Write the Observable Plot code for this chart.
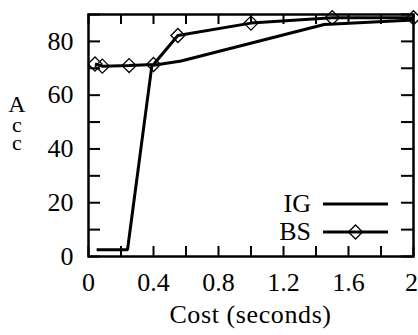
<!DOCTYPE html>
<html><head><meta charset="utf-8">
<script src="https://cdn.jsdelivr.net/npm/d3@7"></script>
<script src="https://cdn.jsdelivr.net/npm/@observablehq/plot@0.6"></script>
<style>
html,body{margin:0;padding:0;background:#fff;}
#chart{width:418px;height:335px;font-family:"Liberation Serif",serif;}
#chart svg, #chart svg text, #chart svg tspan, #chart svg g{font-family:"Liberation Serif",serif !important;}
</style></head><body><div id="chart"></div>
<script>
// ---- data ----
const seriesNames = ["IG", "BS"];
const igCost = [0.05, 0.24, 0.39, 0.57, 1.45, 2.0];
const igAcc  = [2.5, 2.5, 71, 72.7, 86.3, 88];
const bsCost = [0.04, 0.085, 0.25, 0.40, 0.55, 1.0, 1.5, 2.0];
const bsAcc  = [71.6, 70.8, 71, 71.4, 82.2, 86.8, 88.8, 88.8];
const xTickLabels = [0, 0.4, 0.8, 1.2, 1.6];
const xLastLabel = [2];
const xTicks = [0, 0.2, 0.4, 0.6, 0.8, 1.0, 1.2, 1.4, 1.6, 1.8, 2.0];
const yTickLabels = [0, 20, 40, 60, 80];
const yTicks = [0, 10, 20, 30, 40, 50, 60, 70, 80, 90];
const xLabel = "Cost (seconds)";
const yLabel = "Acc";

// ---- layout ----
const W = 418, H = 335, mL = 88, mR = 5, mT = 14, mB = 79;
const innerW = W - mL - mR, innerH = H - mT - mB;
const font = "Liberation Serif";
const fs = 26;

const ig = igCost.map((x, i) => ({x, y: igAcc[i]}));
const bs = bsCost.map((x, i) => ({x, y: bsAcc[i]}));

const tickStyle = {stroke: "black", strokeWidth: 2};
const svg = Plot.plot({
  width: W, height: H,
  marginLeft: mL, marginRight: mR, marginTop: mT, marginBottom: mB,
  style: {fontFamily: font, background: "white", color: "black"},
  x: {domain: [0, 2], label: null},
  y: {domain: [0, 90], label: null},
  marks: [
    Plot.axisX({ticks: xTickLabels, tickSize: 0, tickPadding: 16, tickFormat: d => String(d), fontSize: fs, label: null}),
    Plot.axisX({ticks: xLastLabel, tickSize: 0, tickPadding: 16, tickFormat: d => String(d), fontSize: fs, label: null, dx: -2}),
    Plot.axisY({ticks: yTickLabels, tickSize: 0, tickPadding: 15, tickFormat: d => String(d), fontSize: fs, label: null}),
    Plot.tickX(xTicks, {x: d => d, insetTop: innerH - 10, ...tickStyle}),
    Plot.tickX(xTicks, {x: d => d, insetBottom: innerH - 10, ...tickStyle}),
    Plot.tickY(yTicks, {y: d => d, insetRight: innerW - 12, ...tickStyle}),
    Plot.tickY(yTicks, {y: d => d, insetLeft: innerW - 12, ...tickStyle}),
    Plot.line(ig, {x: "x", y: "y", stroke: "black", strokeWidth: 3, strokeLinejoin: "miter", strokeLinecap: "butt"}),
    Plot.line(bs, {x: "x", y: "y", stroke: "black", strokeWidth: 3, strokeLinejoin: "miter", strokeLinecap: "butt"}),
    Plot.dot(bs, {x: "x", y: "y", symbol: "diamond2", r: 6.3, stroke: "black", fill: "none", strokeWidth: 1.3}),
    Plot.frame({stroke: "black", strokeWidth: 2.5})
  ]
});
svg.setAttribute("font-family", font);
document.getElementById("chart").appendChild(svg);

const s = d3.select(svg);
// x label
s.append("text").attr("x", mL + innerW / 2).attr("y", 323)
  .attr("text-anchor", "middle").attr("font-size", fs)
  .attr("letter-spacing", "0.6")
  .attr("fill", "black").text(xLabel);
// y label stacked (one text, one tspan per letter)
const yt = s.append("text").attr("x", 17).attr("y", 112).attr("text-anchor", "middle")
  .attr("font-size", 23).attr("fill", "black");
const ydy = [0, 20, 18];
yLabel.split("").forEach((ch, i) => {
  yt.append("tspan").attr("x", 17).attr("dy", ydy[i]).attr("font-size", i === 0 ? 24 : 22).text(ch);
});
// legend
const legRows = [{name: seriesNames[0], y: 204, marker: false}, {name: seriesNames[1], y: 232, marker: true}];
const sym = d3.symbol(d3.symbolDiamond2, 125);
legRows.forEach(r => {
  s.append("text").attr("x", 311).attr("y", r.y + 8).attr("text-anchor", "end")
    .attr("font-size", fs).attr("fill", "black").text(r.name);
  s.append("line").attr("x1", 323).attr("x2", 388).attr("y1", r.y).attr("y2", r.y)
    .attr("stroke", "black").attr("stroke-width", 3);
  if (r.marker) {
    s.append("path").attr("d", sym()).attr("transform", `translate(355.5,${r.y})`)
      .attr("fill", "none").attr("stroke", "black").attr("stroke-width", 1.3);
  }
});
s.selectAll("g, text, tspan").attr("font-family", font)
  .each(function() { this.style.setProperty("font-family", "'Liberation Serif', serif", "important"); });
</script>
</body></html>
